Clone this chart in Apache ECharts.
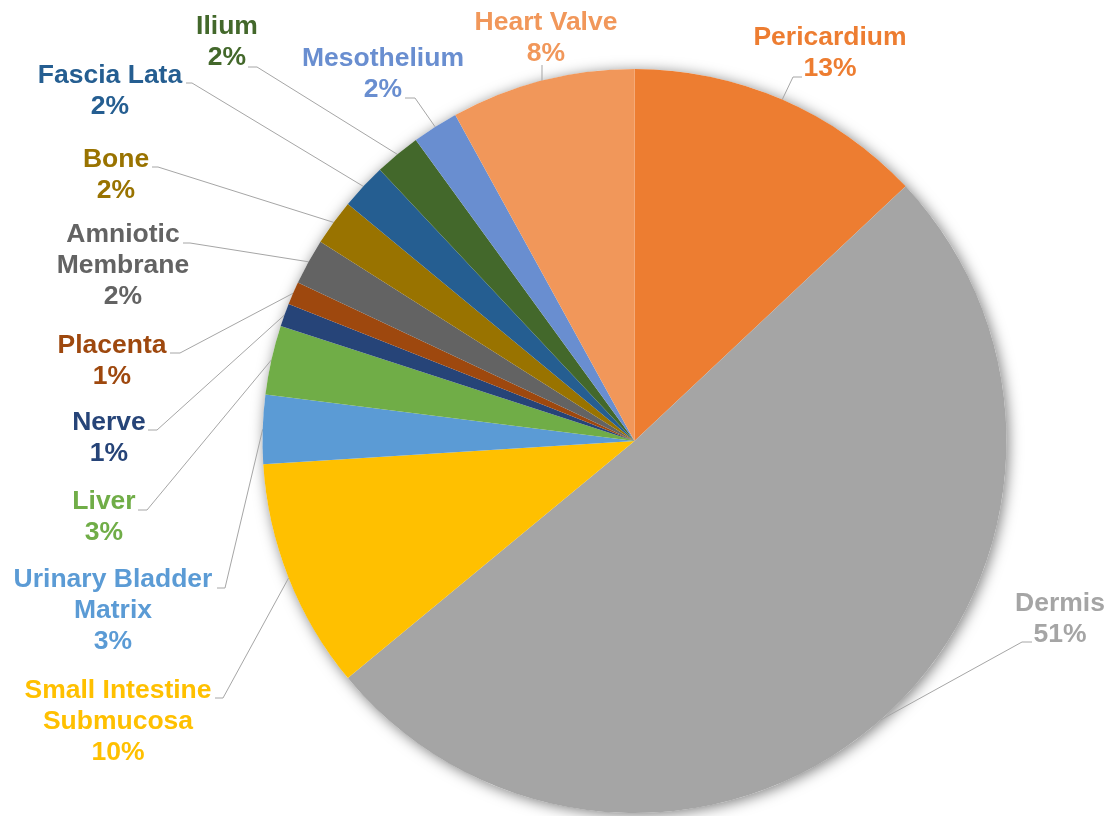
<!DOCTYPE html>
<html>
<head>
<meta charset="utf-8">
<script src="https://cdn.jsdelivr.net/npm/echarts@6/dist/echarts.min.js"></script>
<style>
  html, body { margin: 0; padding: 0; background: #ffffff; }
  #chart { width: 1112px; height: 816px; }
</style>
</head>
<body>
<div id="chart"></div>
<script>
// Tissue sources, clockwise from 12 o'clock
const categories = [
  'Pericardium', 'Dermis', 'Small Intestine Submucosa', 'Urinary Bladder Matrix',
  'Liver', 'Nerve', 'Placenta', 'Amniotic Membrane', 'Bone', 'Fascia Lata',
  'Ilium', 'Mesothelium', 'Heart Valve'
];
// Share of each source, in percent
const shares = [13, 51, 10, 3, 3, 1, 1, 2, 2, 2, 2, 2, 8];

const colors = [
  '#ED7D31', '#A5A5A5', '#FFC000', '#5B9BD5', '#70AD47', '#264478', '#9E480E',
  '#636363', '#997300', '#255E91', '#43682B', '#698ED0', '#F1975A'
];

// Label placement: [block centre x, block centre y, leader attach x, attach y, elbow x, elbow y]
const labelSpots = [
  [830, 53, 802, 77, 793, 77],
  [1060, 619, 1032, 642, 1022, 642],
  [118, 722, 215, 698, 223, 698],
  [113, 611, 217, 588, 225, 588],
  [104, 517, 138, 510, 147, 510],
  [109, 438, 148, 430, 157, 430],
  [112, 361, 170, 353, 180, 353],
  [123, 266, 183, 243, 190, 243],
  [116, 175, 152, 167, 158, 167],
  [110, 91, 186, 83, 192, 83],
  [227, 42, 248, 67, 257, 67],
  [383, 74, 405, 98, 415, 98],
  [546, 38, 542, 65, 542, 65]
];

const CX = 634.5, CY = 441, R = 372;

const total = shares.reduce((a, b) => a + b, 0);
const starts = [];
shares.reduce((acc, v) => { starts.push(acc); return acc + v; }, 0);

// Point on the outer rim at the middle of slice i
function rimPoint(i) {
  const a = (starts[i] + shares[i] / 2) / total * 2 * Math.PI;
  return [CX + R * Math.sin(a), CY - R * Math.cos(a)];
}

// Break long names onto two lines at the last space
function wrapName(name) {
  if (name.length <= 12) return name;
  const k = name.lastIndexOf(' ');
  return k > 0 ? name.slice(0, k) + '\n' + name.slice(k + 1) : name;
}

const chart = echarts.init(document.getElementById('chart'), null, { renderer: 'canvas' });

chart.setOption({
  backgroundColor: '#ffffff',
  animation: false,
  series: [
    {
      // soft shadow under the whole pie
      type: 'pie',
      silent: true,
      z: 1,
      center: [CX, CY],
      radius: R,
      label: { show: false },
      labelLine: { show: false },
      itemStyle: {
        color: '#ffffff',
        shadowBlur: 14,
        shadowColor: 'rgba(0,0,0,0.5)',
        shadowOffsetX: 2,
        shadowOffsetY: 2
      },
      data: [{ value: 1, name: '' }]
    },
    {
      type: 'pie',
      z: 2,
      center: [CX, CY],
      radius: R,
      startAngle: 90,
      clockwise: true,
      avoidLabelOverlap: false,
      itemStyle: { borderWidth: 0 },
      label: {
        show: true,
        position: 'outside',
        formatter: p => wrapName(p.name) + '\n' + p.value + '%',
        fontFamily: '"Liberation Sans", Arial, sans-serif',
        fontWeight: 'bold',
        fontSize: 26.5,
        lineHeight: 31,
        align: 'center'
      },
      labelLine: {
        show: true,
        lineStyle: { color: '#A6A6A6', width: 1 }
      },
      labelLayout: params => {
        const i = params.dataIndex;
        const s = labelSpots[i];
        return {
          x: s[0],
          y: s[1],
          align: 'center',
          verticalAlign: 'middle',
          labelLinePoints: [rimPoint(i), [s[4], s[5]], [s[2], s[3]]]
        };
      },
      data: categories.map((name, i) => ({
        name: name,
        value: shares[i],
        itemStyle: { color: colors[i] },
        label: { color: colors[i] }
      }))
    }
  ]
});
</script>
</body>
</html>
